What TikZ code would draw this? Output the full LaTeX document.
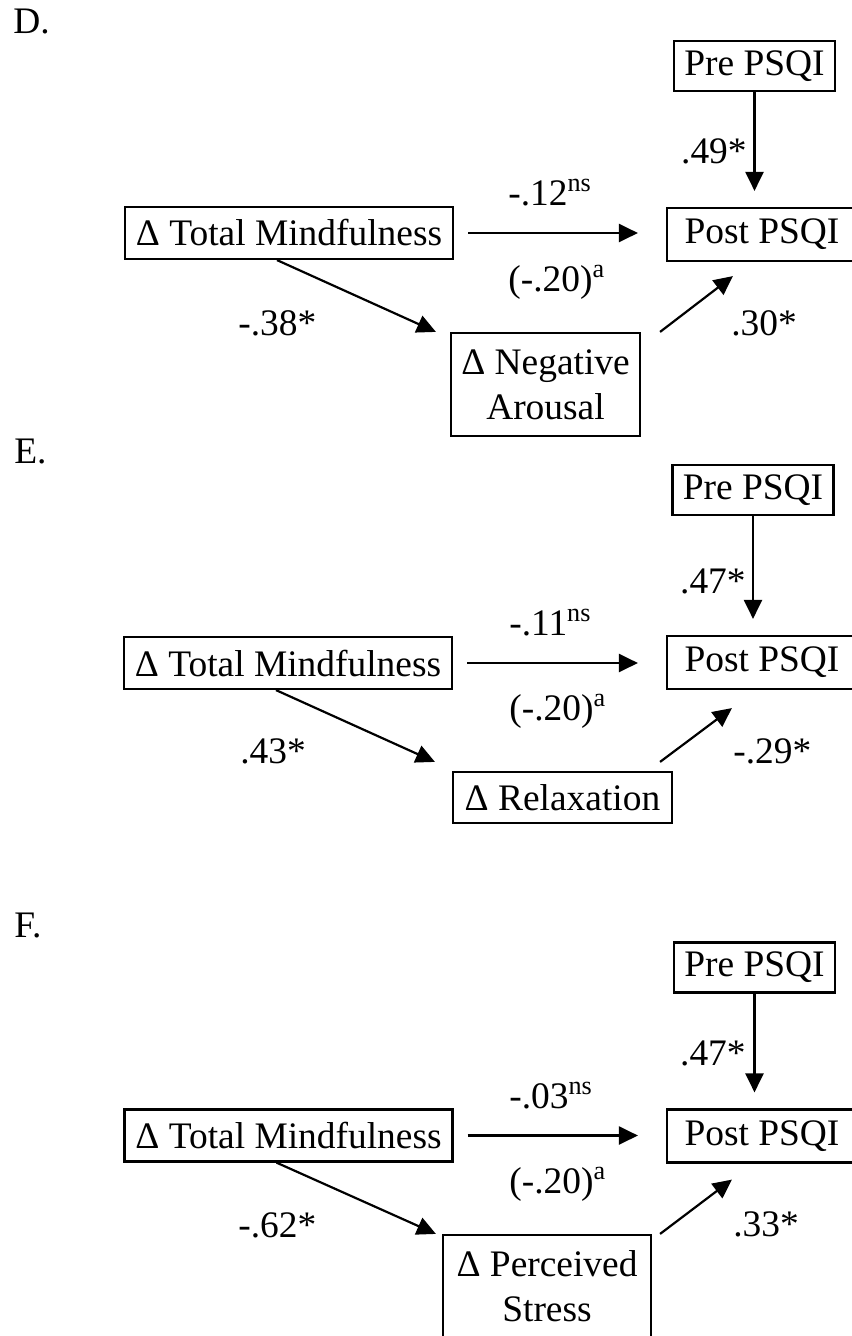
\documentclass[tikz,border=0pt]{standalone}
\usepackage{fontspec}
\setmainfont{Liberation Serif}
\usetikzlibrary{arrows.meta,calc}

\begin{document}
\begin{tikzpicture}[
    x=0.02cm, y=-0.02cm,
    font=\fontsize{21.3}{25.5}\selectfont,
    box/.style={rectangle, draw, line width=1.25pt, inner sep=0pt, align=center},
    prebox/.style={box, minimum width=3.22cm, minimum height=1.0cm},
    postbox/.style={box, minimum width=3.8cm, minimum height=1.06cm},
    tmbox/.style={box, minimum width=6.56cm, minimum height=1.04cm},
    coef/.style={inner sep=0pt, anchor=base west},
    arrow/.style={-{Triangle[length=0.38cm, width=0.36cm]}, line width=1.25pt},
]
    \useasboundingbox (0,0) rectangle (852,1336);
    \clip (0,0) rectangle (852,1336);

    % Panel D
    \node[coef] (labD) at (13,33) {D.};
    \node[prebox] (preD) at (754.5,66) {Pre PSQI};
    \node[tmbox] (tmD) at (289,233) {Δ Total Mindfulness};
    \node[postbox] (postD) at (762,234.5) {Post PSQI};
    \node[box, minimum width=3.78cm, minimum height=2.06cm] (naD) at (545.5,384.5) {Δ Negative\\Arousal};

    \draw[arrow, shorten >=0.32cm] (preD.south) -- (preD.south |- postD.north);
    \draw[arrow, shorten <=0.28cm, shorten >=0.56cm] (tmD.east) -- (tmD.east -| postD.west);
    \draw[arrow] ($(tmD.south)+(-12,0)$) -- ($(naD.north west)+(-14,0)$);
    \draw[arrow] ($(naD.north east)+(19,0)$) -- ($(postD.south west)+(67,14)$);

    \node[coef] (c1D) at (508,205) {-.12\textsuperscript{ns}};
    \node[coef] (c2D) at (508,291) {(-.20)\textsuperscript{a}};
    \node[coef] (c3D) at (238,335) {-.38*};
    \node[coef] (c4D) at (731,335) {.30*};
    \node[coef, anchor=base east] (c5D) at (747,163) {.49*};

    % Panel E
    \node[coef] (labE) at (14,463) {E.};
    \node[prebox] (preE) at (753,490) {Pre PSQI};
    \node[tmbox] (tmE) at (288,663) {Δ Total Mindfulness};
    \node[postbox] (postE) at (762,662.5) {Post PSQI};
    \node[box, minimum width=4.38cm, minimum height=1.02cm] (relE) at (562.5,797.5) {Δ Relaxation};

    \draw[arrow, shorten >=0.32cm] (preE.south) -- (preE.south |- postE.north);
    \draw[arrow, shorten <=0.28cm, shorten >=0.56cm] (tmE.east) -- (tmE.east -| postE.west);
    \draw[arrow] ($(tmE.south)+(-12,0)$) -- ($(relE.north west)+(-17,-9)$);
    \draw[arrow] ($(relE.north east)+(-13,-9)$) -- ($(postE.south west)+(66,18)$);

    \node[coef] (c1E) at (509,635) {-.11\textsuperscript{ns}};
    \node[coef] (c2E) at (509,720) {(-.20)\textsuperscript{a}};
    \node[coef] (c3E) at (240,763) {.43*};
    \node[coef] (c4E) at (733,763) {-.29*};
    \node[coef, anchor=base east] (c5E) at (746,593) {.47*};

    % Panel F
    \node[coef] (labF) at (14,937) {F.};
    \node[prebox] (preF) at (754.5,967.5) {Pre PSQI};
    \node[tmbox] (tmF) at (288.5,1135.5) {Δ Total Mindfulness};
    \node[postbox] (postF) at (762,1136) {Post PSQI};
    \node[box, minimum width=4.16cm, minimum height=2.06cm] (psF) at (547,1286.5) {Δ Perceived\\Stress};

    \draw[arrow, shorten >=0.32cm] (preF.south) -- (preF.south |- postF.north);
    \draw[arrow, shorten <=0.28cm, shorten >=0.56cm] (tmF.east) -- (tmF.east -| postF.west);
    \draw[arrow] ($(tmF.south)+(-12,0)$) -- ($(psF.north west)+(-6,0)$);
    \draw[arrow] ($(psF.north east)+(8,0)$) -- ($(postF.south west)+(66,16)$);

    \node[coef] (c1F) at (509,1108) {-.03\textsuperscript{ns}};
    \node[coef] (c2F) at (509,1193) {(-.20)\textsuperscript{a}};
    \node[coef] (c3F) at (238,1237) {-.62*};
    \node[coef] (c4F) at (733,1236) {.33*};
    \node[coef, anchor=base east] (c5F) at (746,1065) {.47*};
\end{tikzpicture}
\end{document}
